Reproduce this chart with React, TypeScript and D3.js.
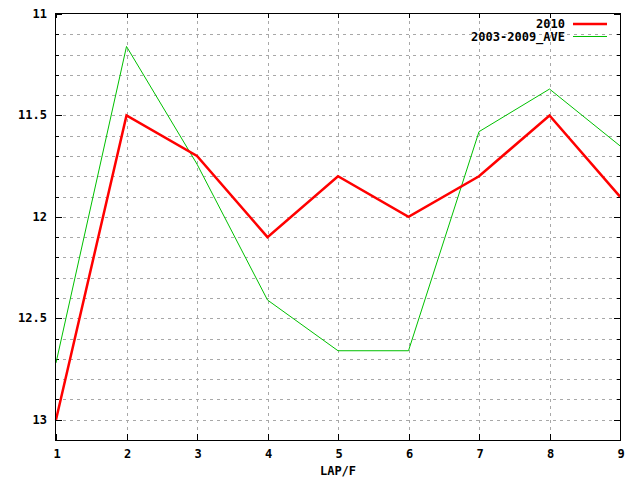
import * as d3 from 'd3';
import React from 'react';

// LAP/F (1..9) vs time, y axis reversed
const laps = [1, 2, 3, 4, 5, 6, 7, 8, 9];
const series2010 = [13.0, 11.5, 11.7, 12.1, 11.8, 12.0, 11.8, 11.5, 11.9];
const seriesAve = [12.72, 11.16, 11.74, 12.41, 12.66, 12.66, 11.58, 11.37, 11.65];
const yMajorTicks = [11, 11.5, 12, 12.5, 13];
const yMinorTicks = d3.range(110, 132, 1).map((v) => v / 10);

const width = 640;
const height = 480;
const margin = { top: 14, right: 20, bottom: 40, left: 56 };
const font = '"DejaVu Sans Mono", "Liberation Mono", monospace';

const App: React.FC = () => {
  const x = d3.scaleLinear().domain([1, 9]).range([margin.left, width - margin.right]);
  const y = d3.scaleLinear().domain([11, 13.1]).range([margin.top, height - margin.bottom]);

  const x0 = margin.left;
  const x1 = width - margin.right;
  const y0 = margin.top;
  const y1 = height - margin.bottom;
  const px = (v: number) => Math.round(v) + 0.5;

  const line = d3
    .line<number>()
    .x((_, i) => x(laps[i]))
    .y((d) => y(d));

  return (
    <div style={{ position: 'fixed', left: 0, top: 0 }}>
      <svg width={width} height={height} style={{ display: 'block', background: '#fff' }}>
        {/* grid */}
        <g stroke="#a8a8a8" strokeWidth={1} strokeDasharray="3,4" shapeRendering="crispEdges">
          {yMinorTicks
            .filter((t) => t > 11 && t < 13.1)
            .map((t) => (
              <line key={'gy' + t} x1={x0} x2={x1} y1={px(y(t))} y2={px(y(t))} />
            ))}
          {laps.slice(1, -1).map((t) => (
            <line key={'gx' + t} x1={px(x(t))} x2={px(x(t))} y1={y0} y2={y1} />
          ))}
        </g>

        {/* ticks */}
        <g stroke="#000" strokeWidth={1} shapeRendering="crispEdges">
          {yMinorTicks.map((t) => {
            const major = yMajorTicks.some((m) => Math.abs(m - t) < 1e-6);
            const len = major ? 6 : 3;
            return (
              <g key={'ty' + t}>
                <line x1={x0} x2={x0 + len} y1={px(y(t))} y2={px(y(t))} />
                <line x1={x1} x2={x1 - len} y1={px(y(t))} y2={px(y(t))} />
              </g>
            );
          })}
          {laps.map((t) => (
            <g key={'tx' + t}>
              <line x1={px(x(t))} x2={px(x(t))} y1={y1} y2={y1 - 6} />
              <line x1={px(x(t))} x2={px(x(t))} y1={y0} y2={y0 + 4} />
            </g>
          ))}
        </g>

        {/* data */}
        <path d={line(seriesAve) ?? ''} fill="none" stroke="#00c000" strokeWidth={1} />
        <path d={line(series2010) ?? ''} fill="none" stroke="#ff0000" strokeWidth={2.5} strokeLinejoin="miter" />

        {/* frame */}
        <rect
          x={x0 - 0.5}
          y={y0 - 0.5}
          width={x1 - x0 + 1}
          height={y1 - y0 + 1}
          fill="none"
          stroke="#000"
          strokeWidth={1}
          shapeRendering="crispEdges"
        />

        {/* tick labels */}
        <g fontFamily={font} fontSize={12} fontWeight="bold" fill="#000">
          {yMajorTicks.map((t) => (
            <text key={'ly' + t} x={47} y={y(t)} textAnchor="end" dominantBaseline="central">
              {t}
            </text>
          ))}
          {laps.map((t) => (
            <text key={'lx' + t} x={x(t) + 1} y={454} textAnchor="middle" dominantBaseline="central">
              {t}
            </text>
          ))}
          <text x={x(5)} y={471} textAnchor="middle" dominantBaseline="central">
            LAP/F
          </text>
        </g>

        {/* legend */}
        <g fontFamily={font} fontSize={12} fontWeight="bold" fill="#000">
          <text x={565} y={24} textAnchor="end" dominantBaseline="central">
            2010
          </text>
          <line x1={573} x2={607} y1={24} y2={24} stroke="#ff0000" strokeWidth={2.5} />
          <text x={565} y={36.5} textAnchor="end" dominantBaseline="central">
            2003-2009_AVE
          </text>
          <line x1={573} x2={607} y1={36.5} y2={36.5} stroke="#00c000" strokeWidth={1} />
        </g>
      </svg>
    </div>
  );
};

export default App;
